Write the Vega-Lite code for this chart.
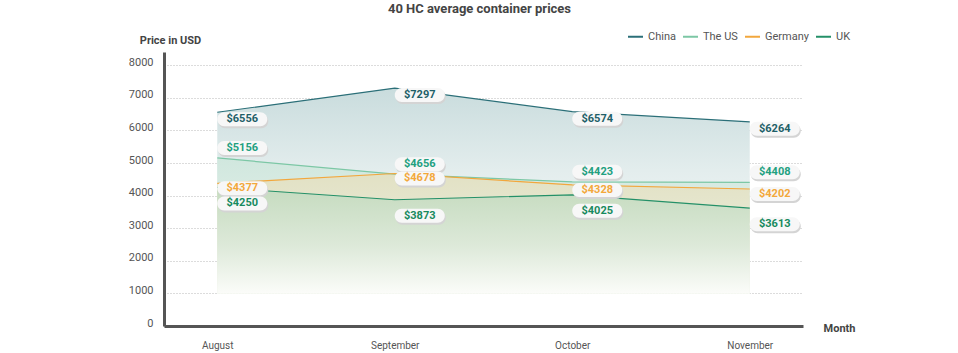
{
  "$schema": "https://vega.github.io/schema/vega-lite/v6.json",
  "width": 639,
  "height": 274,
  "autosize": {"type": "none"},
  "padding": {"left": 164, "top": 52, "right": 155, "bottom": 27},
  "title": {"text": "40 HC average container prices", "font": "Roboto", "fontSize": 13, "fontWeight": "bold", "color": "#444444", "anchor": "middle", "dx": -4, "offset": 12},
  "config": {
    "font": "Roboto",
    "view": {"stroke": null},
    "legend": {"orient": "none", "legendX": 463, "legendY": -24, "direction": "horizontal", "symbolType": "stroke", "symbolStrokeWidth": 2, "symbolSize": 225, "labelFont": "Roboto", "labelFontSize": 11, "labelColor": "#555555", "columnPadding": 3, "labelOffset": 4}
  },
  "data": {"values": [
    {"month": "August", "country": "China", "price": 6556},
    {"month": "August", "country": "The US", "price": 5156},
    {"month": "August", "country": "Germany", "price": 4377},
    {"month": "August", "country": "UK", "price": 4250},
    {"month": "September", "country": "China", "price": 7297},
    {"month": "September", "country": "The US", "price": 4656},
    {"month": "September", "country": "Germany", "price": 4678},
    {"month": "September", "country": "UK", "price": 3873},
    {"month": "October", "country": "China", "price": 6574},
    {"month": "October", "country": "The US", "price": 4423},
    {"month": "October", "country": "Germany", "price": 4328},
    {"month": "October", "country": "UK", "price": 4025},
    {"month": "November", "country": "China", "price": 6264},
    {"month": "November", "country": "The US", "price": 4408},
    {"month": "November", "country": "Germany", "price": 4202},
    {"month": "November", "country": "UK", "price": 3613}
  ]},
  "encoding": {
    "x": {"field": "month", "type": "ordinal", "sort": ["August", "September", "October", "November"], "scale": {"type": "point", "padding": 0.3},
      "axis": {"title": "Month", "titleX": 675, "titleY": 2, "titleAlign": "center", "titleBaseline": "middle", "titleFont": "Roboto", "titleFontSize": 11, "titleFontWeight": "bold", "titleColor": "#444444", "labelAngle": 0, "labelFont": "Roboto", "labelFontSize": 10, "labelColor": "#555555", "labelPadding": 14, "ticks": false, "domainColor": "#555555", "domainWidth": 3, "grid": false}},
    "y": {"field": "price", "type": "quantitative", "scale": {"domain": [0, 8405], "nice": false},
      "axis": {"title": "Price in USD", "titleAngle": 0, "titleX": 6, "titleY": -12, "titleAlign": "center", "titleBaseline": "middle", "titleFont": "Roboto", "titleFontSize": 11, "titleFontWeight": "bold", "titleColor": "#444444", "values": [0, 1000, 2000, 3000, 4000, 5000, 6000, 7000, 8000], "format": "d", "labelFont": "Roboto", "labelFontSize": 11, "labelColor": "#555555", "labelPadding": 11, "labelOffset": -3, "ticks": false, "domainColor": "#555555", "domainWidth": 3, "grid": true, "gridDash": [1, 2], "gridColor": "#b8b8b8", "gridWidth": 1}}
  },
  "layer": [
    {"transform": [{"filter": "datum.country === 'China'"}],
     "mark": {"type": "area", "opacity": 1, "color": {"gradient": "linear", "x1": 0, "y1": 0, "x2": 0, "y2": 1, "stops": [{"offset": 0, "color": "#c9dcdd"}, {"offset": 0.4, "color": "#e3eded"}, {"offset": 1, "color": "#ffffff"}]}},
     "encoding": {"y2": {"datum": 1000}}},
    {"transform": [{"filter": "datum.country === 'The US'"}],
     "mark": {"type": "area", "opacity": 1, "color": {"gradient": "linear", "x1": 0, "y1": 0, "x2": 0, "y2": 1, "stops": [{"offset": 0, "color": "#d0e7de"}, {"offset": 1, "color": "#f2f7f2"}]}},
     "encoding": {"y2": {"datum": 1000}}},
    {"transform": [{"filter": "datum.country === 'Germany'"}],
     "mark": {"type": "area", "opacity": 1, "color": {"gradient": "linear", "x1": 0, "y1": 0, "x2": 0, "y2": 1, "stops": [{"offset": 0, "color": "#e2e1c4"}, {"offset": 1, "color": "#eef2e6"}]}},
     "encoding": {"y2": {"datum": 1000}}},
    {"transform": [{"filter": "datum.country === 'UK'"}],
     "mark": {"type": "area", "opacity": 1, "color": {"gradient": "linear", "x1": 0, "y1": 0, "x2": 0, "y2": 1, "stops": [{"offset": 0, "color": "#c5dbbf"}, {"offset": 0.55, "color": "#dde9d9"}, {"offset": 1, "color": "#fbfcf9"}]}},
     "encoding": {"y2": {"datum": 1000}}},
    {"mark": {"type": "line", "strokeWidth": 1.2},
     "encoding": {"color": {"field": "country", "type": "nominal", "title": null, "scale": {"domain": ["China", "The US", "Germany", "UK"], "range": ["#2b6f78", "#7cc7a5", "#f2a73d", "#249068"]}}}},

    {"transform": [{"filter": "datum.country === 'China'"}],
     "mark": {"type": "point", "shape": "M0.28,-0.28L1.72,-0.28C1.8746,-0.28,2,-0.1546,2,0C2,0.1546,1.8746,0.28,1.72,0.28L0.28,0.28C0.1254,0.28,0,0.1546,0,0C0,-0.1546,0.1254,-0.28,0.28,-0.28Z", "size": 2500, "filled": true, "color": "#d4d4d4", "opacity": 1, "strokeWidth": 0, "xOffset": 1, "yOffset": 9}},
    {"transform": [{"filter": "datum.country === 'China'"}],
     "mark": {"type": "point", "shape": "M0.28,-0.28L1.72,-0.28C1.8746,-0.28,2,-0.1546,2,0C2,0.1546,1.8746,0.28,1.72,0.28L0.28,0.28C0.1254,0.28,0,0.1546,0,0C0,-0.1546,0.1254,-0.28,0.28,-0.28Z", "size": 2500, "filled": true, "color": "#f7f7f7", "opacity": 1, "strokeWidth": 0, "yOffset": 7}},
    {"transform": [{"filter": "datum.country === 'China'"}],
     "mark": {"type": "text", "font": "Roboto", "fontWeight": "bold", "fontSize": 11, "color": "#1e5f68", "align": "center", "baseline": "middle", "xOffset": 25, "yOffset": 7},
     "encoding": {"text": {"field": "price", "type": "quantitative", "format": "$d"}}},

    {"transform": [{"filter": "datum.country === 'The US'"}],
     "mark": {"type": "point", "shape": "M0.28,-0.28L1.72,-0.28C1.8746,-0.28,2,-0.1546,2,0C2,0.1546,1.8746,0.28,1.72,0.28L0.28,0.28C0.1254,0.28,0,0.1546,0,0C0,-0.1546,0.1254,-0.28,0.28,-0.28Z", "size": 2500, "filled": true, "color": "#d4d4d4", "opacity": 1, "strokeWidth": 0, "xOffset": 1, "yOffset": -8}},
    {"transform": [{"filter": "datum.country === 'The US'"}],
     "mark": {"type": "point", "shape": "M0.28,-0.28L1.72,-0.28C1.8746,-0.28,2,-0.1546,2,0C2,0.1546,1.8746,0.28,1.72,0.28L0.28,0.28C0.1254,0.28,0,0.1546,0,0C0,-0.1546,0.1254,-0.28,0.28,-0.28Z", "size": 2500, "filled": true, "color": "#f7f7f7", "opacity": 1, "strokeWidth": 0, "yOffset": -10}},
    {"transform": [{"filter": "datum.country === 'The US'"}],
     "mark": {"type": "text", "font": "Roboto", "fontWeight": "bold", "fontSize": 11, "color": "#22a07f", "align": "center", "baseline": "middle", "xOffset": 25, "yOffset": -10},
     "encoding": {"text": {"field": "price", "type": "quantitative", "format": "$d"}}},

    {"transform": [{"filter": "datum.country === 'Germany'"}],
     "mark": {"type": "point", "shape": "M0.28,-0.28L1.72,-0.28C1.8746,-0.28,2,-0.1546,2,0C2,0.1546,1.8746,0.28,1.72,0.28L0.28,0.28C0.1254,0.28,0,0.1546,0,0C0,-0.1546,0.1254,-0.28,0.28,-0.28Z", "size": 2500, "filled": true, "color": "#d4d4d4", "opacity": 1, "strokeWidth": 0, "xOffset": 1, "yOffset": 7}},
    {"transform": [{"filter": "datum.country === 'Germany'"}],
     "mark": {"type": "point", "shape": "M0.28,-0.28L1.72,-0.28C1.8746,-0.28,2,-0.1546,2,0C2,0.1546,1.8746,0.28,1.72,0.28L0.28,0.28C0.1254,0.28,0,0.1546,0,0C0,-0.1546,0.1254,-0.28,0.28,-0.28Z", "size": 2500, "filled": true, "color": "#f7f7f7", "opacity": 1, "strokeWidth": 0, "yOffset": 5}},
    {"transform": [{"filter": "datum.country === 'Germany'"}],
     "mark": {"type": "text", "font": "Roboto", "fontWeight": "bold", "fontSize": 11, "color": "#f3a83b", "align": "center", "baseline": "middle", "xOffset": 25, "yOffset": 5},
     "encoding": {"text": {"field": "price", "type": "quantitative", "format": "$d"}}},

    {"transform": [{"filter": "datum.country === 'UK'"}],
     "mark": {"type": "point", "shape": "M0.28,-0.28L1.72,-0.28C1.8746,-0.28,2,-0.1546,2,0C2,0.1546,1.8746,0.28,1.72,0.28L0.28,0.28C0.1254,0.28,0,0.1546,0,0C0,-0.1546,0.1254,-0.28,0.28,-0.28Z", "size": 2500, "filled": true, "color": "#d4d4d4", "opacity": 1, "strokeWidth": 0, "xOffset": 1, "yOffset": 18}},
    {"transform": [{"filter": "datum.country === 'UK'"}],
     "mark": {"type": "point", "shape": "M0.28,-0.28L1.72,-0.28C1.8746,-0.28,2,-0.1546,2,0C2,0.1546,1.8746,0.28,1.72,0.28L0.28,0.28C0.1254,0.28,0,0.1546,0,0C0,-0.1546,0.1254,-0.28,0.28,-0.28Z", "size": 2500, "filled": true, "color": "#f7f7f7", "opacity": 1, "strokeWidth": 0, "yOffset": 16}},
    {"transform": [{"filter": "datum.country === 'UK'"}],
     "mark": {"type": "text", "font": "Roboto", "fontWeight": "bold", "fontSize": 11, "color": "#188a5e", "align": "center", "baseline": "middle", "xOffset": 25, "yOffset": 16},
     "encoding": {"text": {"field": "price", "type": "quantitative", "format": "$d"}}}
  ]
}
